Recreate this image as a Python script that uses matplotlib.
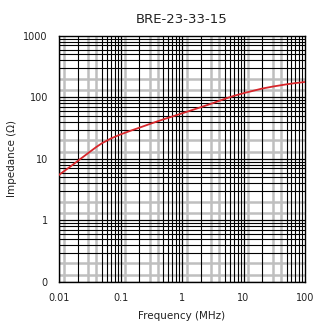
import numpy as np
import matplotlib
matplotlib.use("Agg")
import matplotlib.pyplot as plt

# impedance curve
freq_mhz = [0.01, 0.015, 0.02, 0.03, 0.04, 0.05, 0.07, 0.1, 0.15, 0.2, 0.3, 0.5,
            0.7, 1, 2, 3, 5, 7, 10, 20, 30, 50, 70, 100]
impedance = [5.5, 7.4, 9.2, 12.5, 15.5, 18, 21.5, 25, 29, 32, 37, 44,
             49, 55, 69, 79, 95, 106, 117, 139, 150, 163, 171, 178]

x_ticks = [0.01, 0.1, 1, 10, 100]
x_labels = ["0.01", "0.1", "1", "10", "100"]
y_ticks = [0.1, 1, 10, 100, 1000]
y_labels = ["0", "1", "10", "100", "1000"]

x_black = [2, 5, 6, 7, 8, 9]
x_gray = [1.2, 3, 4]
y_black = [3, 4, 5, 6, 7, 8, 9]
y_gray = [1.3, 2]

fig = plt.figure(figsize=(3.13, 3.23), dpi=100)
ax = fig.add_axes([0.1885, 0.127, 0.786, 0.762])
ax.set_xscale("log")
ax.set_yscale("log")
ax.set_xlim(0.01, 100)
ax.set_ylim(0.1, 1000)

for d in [0.01, 0.1, 1, 10]:
    for m in x_gray:
        ax.axvline(d * m, color="0.75", lw=1.8, zorder=1)
    for m in x_black:
        ax.axvline(d * m, color="black", lw=0.8, zorder=2)
    ax.axvline(d, color="black", lw=0.9, zorder=2)
for d in [0.1, 1, 10, 100]:
    for m in y_gray:
        ax.axhline(d * m, color="0.75", lw=1.8, zorder=1)
    for m in y_black:
        ax.axhline(d * m, color="black", lw=0.8, zorder=2)
    ax.axhline(d, color="black", lw=0.9, zorder=2)

ax.plot(freq_mhz, impedance, color="#d8262b", lw=1.3, zorder=3)

ax.set_xticks(x_ticks)
ax.set_xticklabels(x_labels)
ax.set_yticks(y_ticks)
ax.set_yticklabels(y_labels)
ax.minorticks_off()
ax.tick_params(length=0, labelsize=7, pad=8, labelcolor="#222222")
for s in ax.spines.values():
    s.set_color("black")
    s.set_linewidth(1.0)

ax.set_xlabel("Frequency (MHz)", fontsize=7.5, labelpad=6, color="#222222")
ax.set_ylabel("Impedance (\u03a9)", fontsize=7.5, color="#222222")
ax.yaxis.set_label_coords(-0.17, 0.5)
ax.set_title("BRE-23-33-15", fontsize=9.5, pad=9, color="#222222")

fig.savefig("out.png", dpi=100)
